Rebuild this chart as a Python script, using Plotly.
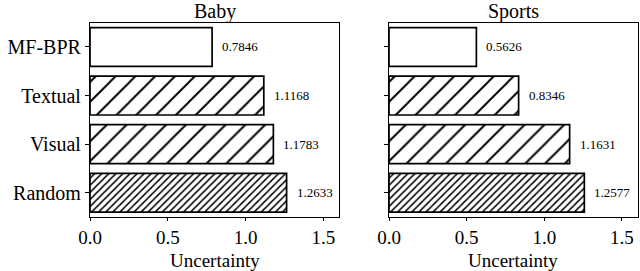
import plotly.graph_objects as go

methods = ["MF-BPR", "Textual", "Visual", "Random"]
baby = [0.7846, 1.1168, 1.1783, 1.2633]
sports = [0.5626, 0.8346, 1.1631, 1.2577]
panels = ["Baby", "Sports"]
x_ticks = [0.0, 0.5, 1.0, 1.5]
x_tick_labels = ["0.0", "0.5", "1.0", "1.5"]
x_title = "Uncertainty"

shapes = ["", "/", "/", "/"]
sizes = [8, 14, 14, 5]
solidities = [0.1, 0.14, 0.14, 0.3]

FONT = "Liberation Serif"
W, H = 640, 271

fig = go.Figure()

xdoms = [[90 / W, 339 / W], [389 / W, 637.5 / W]]
ydom = [(H - 217) / H, (H - 22.7) / H]

for i, (name, vals) in enumerate(zip(panels, [baby, sports])):
    xa = "x" if i == 0 else "x2"
    ya = "y" if i == 0 else "y2"
    fig.add_trace(go.Bar(
        y=methods, x=vals, orientation="h", width=0.8,
        xaxis=xa, yaxis=ya,
        marker=dict(
            color="white",
            line=dict(color="black", width=1.7),
            pattern=dict(shape=shapes, size=sizes, solidity=solidities,
                         fgcolor="black", bgcolor="white", fgopacity=1,
                         fillmode="replace"),
        ),
        showlegend=False,
        hoverinfo="skip",
    ))
    for m, v in zip(methods, vals):
        fig.add_annotation(
            x=v, y=m, xref=xa, yref=ya, text=f"{v:.4f}",
            showarrow=False, xanchor="left", xshift=8,
            font=dict(family=FONT, size=13, color="black"),
        )
    fig.add_annotation(
        x=sum(xdoms[i]) / 2, y=1, xref="paper", yref="paper",
        text=name, showarrow=False, xanchor="center", yanchor="top",
        borderpad=0, yshift=1,
        font=dict(family=FONT, size=20, color="black"),
    )
    fig.add_annotation(
        x=sum(xdoms[i]) / 2, y=0, xref="paper", yref="paper",
        text=x_title, showarrow=False, xanchor="center", yanchor="bottom",
        borderpad=0, yshift=-1,
        font=dict(family=FONT, size=19, color="black"),
    )

axis_common = dict(
    showline=True, linecolor="black", linewidth=1.2, mirror=True,
    ticks="outside", ticklen=4, tickcolor="black", tickwidth=1.2,
    showgrid=False, zeroline=False, automargin=False,
    tickfont=dict(family=FONT, size=20, color="black"),
)

layout_axes = {}
for i in range(2):
    sfx = "" if i == 0 else "2"
    layout_axes["xaxis" + sfx] = dict(
        axis_common, domain=xdoms[i], range=[0, 1.6], anchor="y" + sfx,
        tickvals=x_ticks, ticktext=x_tick_labels, ticklen=3,
        tickfont=dict(family=FONT, size=19, color="black"),
    )
    layout_axes["yaxis" + sfx] = dict(
        axis_common, domain=ydom, anchor="x" + sfx,
        type="category", categoryorder="array",
        categoryarray=list(reversed(methods)), range=[-0.5, 3.5],
        showticklabels=(i == 0),
    )

fig.update_layout(
    width=W, height=H,
    margin=dict(l=0, r=0, t=0, b=0),
    paper_bgcolor="white", plot_bgcolor="white",
    font=dict(family=FONT, color="black"),
    **layout_axes,
)

fig.write_html(
    "out.html",
    config={"displayModeBar": False},
    post_script="document.body.style.margin='0';document.body.style.padding='0';",
)
